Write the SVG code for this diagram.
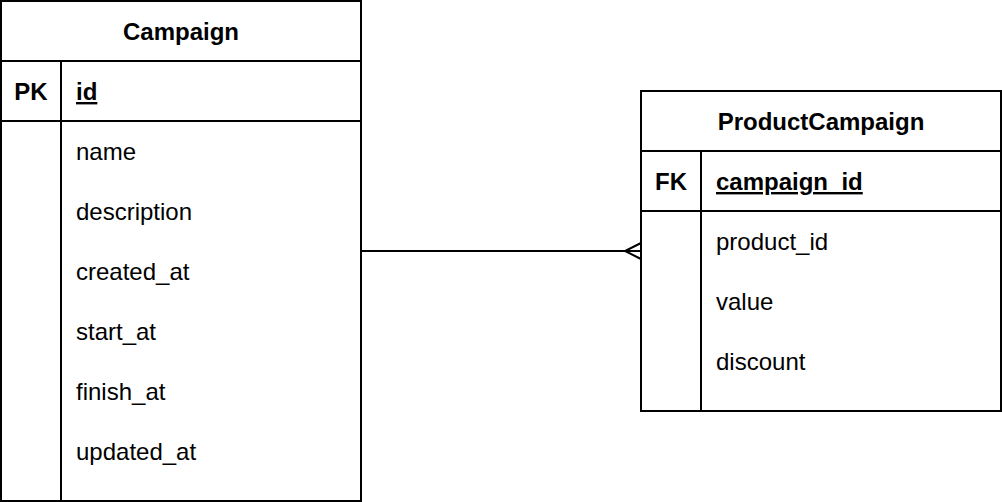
<svg xmlns="http://www.w3.org/2000/svg" width="1002" height="502" viewBox="0 0 1002 502">
<style>
.box{fill:#fff;stroke:#000;stroke-width:2}
.ln{stroke:#000;stroke-width:2;fill:none}
text{font-family:"Liberation Sans",Arial,Helvetica,sans-serif;font-size:24px;fill:#000}
.b{font-weight:bold}
.c{text-anchor:middle}
.u{text-decoration:underline}
</style>
<rect width="1002" height="502" fill="#fff"/>
<g id="connectors">
<line class="ln" x1="361" y1="251" x2="641" y2="251"/>
<polyline class="ln" points="641,243 625,251 641,259"/>
</g>
<g id="Campaign">
<rect class="box" x="1" y="1" width="360" height="500"/>
<line class="ln" x1="1" y1="61" x2="361" y2="61"/>
<line class="ln" x1="1" y1="121" x2="361" y2="121"/>
<line class="ln" x1="61" y1="61" x2="61" y2="501"/>
<text class="b c" x="181" y="40">Campaign</text>
<text class="b c" x="31" y="100">PK</text>
<text class="b u" x="76" y="100">id</text>
<text x="76" y="160">name</text>
<text x="76" y="220">description</text>
<text x="76" y="280">created_at</text>
<text x="76" y="340">start_at</text>
<text x="76" y="400">finish_at</text>
<text x="76" y="460">updated_at</text>
</g>
<g id="ProductCampaign">
<rect class="box" x="641" y="91" width="360" height="320"/>
<line class="ln" x1="641" y1="151" x2="1001" y2="151"/>
<line class="ln" x1="641" y1="211" x2="1001" y2="211"/>
<line class="ln" x1="701" y1="151" x2="701" y2="411"/>
<text class="b c" x="821" y="130">ProductCampaign</text>
<text class="b c" x="671" y="190">FK</text>
<text class="b u" x="716" y="190">campaign_id</text>
<text x="716" y="250">product_id</text>
<text x="716" y="310">value</text>
<text x="716" y="370">discount</text>
</g>
</svg>
